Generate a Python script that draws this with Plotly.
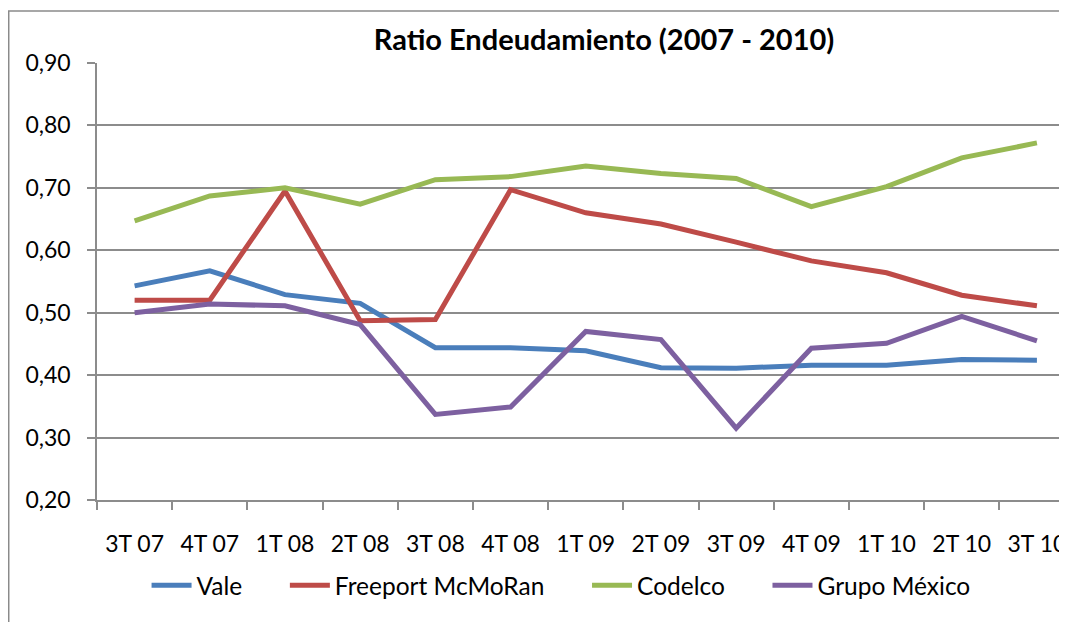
import plotly.graph_objects as go

# data
quarters = ["3T 07", "4T 07", "1T 08", "2T 08", "3T 08", "4T 08", "1T 09",
            "2T 09", "3T 09", "4T 09", "1T 10", "2T 10", "3T 10"]

vale = [0.543, 0.567, 0.529, 0.515, 0.444, 0.444, 0.439, 0.412, 0.411,
        0.416, 0.416, 0.425, 0.424]
freeport = [0.520, 0.520, 0.695, 0.487, 0.489, 0.697, 0.660, 0.642, 0.613,
            0.583, 0.564, 0.528, 0.511]
codelco = [0.647, 0.687, 0.700, 0.674, 0.713, 0.718, 0.735, 0.723, 0.715,
           0.670, 0.702, 0.748, 0.772]
grupo_mexico = [0.500, 0.514, 0.511, 0.481, 0.337, 0.349, 0.470, 0.457,
                0.315, 0.443, 0.451, 0.494, 0.455]

series = [
    ("Vale", vale, "#4A7EBB"),
    ("Freeport McMoRan", freeport, "#BE4B48"),
    ("Codelco", codelco, "#98B954"),
    ("Grupo México", grupo_mexico, "#7D60A0"),
]

FONT = "Lato, Calibri, Carlito, sans-serif"
GRID = "#8c8c8c"
PAD = "\u00a0" * 6  # spacing between legend entries

fig = go.Figure()
for name, vals, color in series:
    fig.add_trace(go.Scatter(
        x=quarters, y=vals, name=name + PAD, mode="lines",
        line=dict(color=color, width=5),
    ))

# outer chart frame (right and bottom edges fall outside the picture)
fig.add_shape(type="rect", xref="paper", yref="paper",
              x0=-0.0910, x1=1.2, y0=-0.4, y1=1.119,
              line=dict(color="#8a8a8a", width=1.5))

# the page body adds an 8px margin, so the figure is 8px smaller
fig.update_layout(
    width=1059, height=614,
    paper_bgcolor="white", plot_bgcolor="white",
    separators=",.",
    font=dict(family=FONT, size=23, color="black"),
    margin=dict(l=89, r=0, t=55, b=122),
    title=dict(
        text="<b>Ratio Endeudamiento (2007 - 2010)</b>",
        x=596 / 1059, xanchor="center",
        y=1 - 32 / 614, yanchor="middle",
        font=dict(family=FONT, size=29),
    ),
    showlegend=True,
    legend=dict(
        orientation="h", x=0.498, xanchor="center",
        y=-0.195, yanchor="middle",
        font=dict(family=FONT, size=24.5),
        itemwidth=40, tracegroupgap=0,
    ),
    xaxis=dict(
        type="category", range=[-0.5, 12.4],
        tickson="boundaries", ticks="outside", ticklen=8,
        tickcolor=GRID, tickwidth=1.5,
        showline=True, linecolor=GRID, linewidth=1.5,
        showgrid=False, ticklabelstandoff=23,
    ),
    yaxis=dict(
        range=[0.2, 0.9], dtick=0.1, tickformat=".2f",
        ticks="outside", ticklen=8, tickcolor=GRID, tickwidth=1.5,
        showline=True, linecolor=GRID, linewidth=1.5,
        showgrid=True, gridcolor=GRID, gridwidth=1.5,
        zeroline=False, ticklabelstandoff=12,
    ),
)

fig.write_html("out.html")
